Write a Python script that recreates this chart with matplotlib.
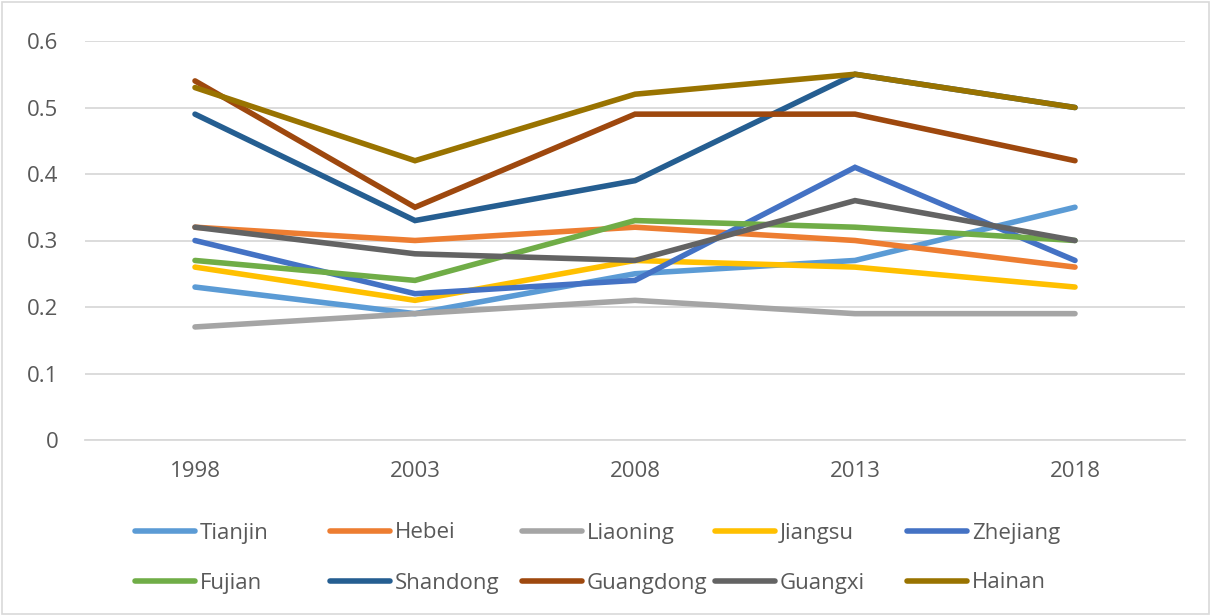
import matplotlib
matplotlib.use("Agg")
import matplotlib.pyplot as plt
from matplotlib.patches import Rectangle

plt.rcParams['font.family'] = ['Open Sans', 'DejaVu Sans']

# data
years = ["1998", "2003", "2008", "2013", "2018"]
names = ["Tianjin", "Hebei", "Liaoning", "Jiangsu", "Zhejiang",
         "Fujian", "Shandong", "Guangdong", "Guangxi", "Hainan"]
tianjin = [0.23, 0.19, 0.25, 0.27, 0.35]
hebei = [0.32, 0.30, 0.32, 0.30, 0.26]
liaoning = [0.17, 0.19, 0.21, 0.19, 0.19]
jiangsu = [0.26, 0.21, 0.27, 0.26, 0.23]
zhejiang = [0.30, 0.22, 0.24, 0.41, 0.27]
fujian = [0.27, 0.24, 0.33, 0.32, 0.30]
shandong = [0.49, 0.33, 0.39, 0.55, 0.50]
guangdong = [0.54, 0.35, 0.49, 0.49, 0.42]
guangxi = [0.32, 0.28, 0.27, 0.36, 0.30]
hainan = [0.53, 0.42, 0.52, 0.55, 0.50]
series = [tianjin, hebei, liaoning, jiangsu, zhejiang,
          fujian, shandong, guangdong, guangxi, hainan]
colors = ["#5B9BD5", "#ED7D31", "#A5A5A5", "#FFC000", "#4472C4",
          "#70AD47", "#255E91", "#9E480E", "#636363", "#997300"]

W, H = 1213, 616
fig = plt.figure(figsize=(W / 100, H / 100), dpi=100)
ax = fig.add_axes([85 / W, 1 - 440 / H, 1100 / W, 399 / H])

x = list(range(len(years)))
lines = []
for vals, name, c in zip(series, names, colors):
    ln, = ax.plot(x, vals, color=c, linewidth=4, label=name,
                  solid_capstyle='round', solid_joinstyle='miter')
    lines.append(ln)

ax.set_xlim(-0.5, 4.5)
ax.set_ylim(0, 0.6)
ax.set_yticks([0, 0.1, 0.2, 0.3, 0.4, 0.5, 0.6])
ax.set_yticklabels(["0", "0.1", "0.2", "0.3", "0.4", "0.5", "0.6"])
ax.set_xticks(x)
ax.set_xticklabels(years)
ax.tick_params(length=0, labelsize=16, labelcolor="#595959")
ax.tick_params(axis='y', pad=19)
ax.tick_params(axis='x', pad=15)
ax.grid(axis='y', color="#D9D9D9", linewidth=1.3)
ax.set_axisbelow(True)
for s in ["top", "right", "left"]:
    ax.spines[s].set_visible(False)
ax.spines["bottom"].set_color("#D9D9D9")
ax.spines["bottom"].set_linewidth(1.3)

# legend, laid out like Excel: two rows of five equal columns
col_x = [135, 330, 522, 715, 907]
row_y = [533, 583]
for i, ln in enumerate(lines):
    r, c = divmod(i, 5)
    leg = fig.legend([ln], [names[i]], loc="center left",
                     bbox_to_anchor=(col_x[c] / W, 1 - row_y[r] / H),
                     frameon=False, fontsize=16, handlelength=2.7,
                     handletextpad=0.22, borderpad=0, borderaxespad=0,
                     labelcolor="#595959")

fig.patches.append(Rectangle((0.002, 0.003), 0.995, 0.993, transform=fig.transFigure,
                             fill=False, edgecolor="#D9D9D9", linewidth=1.2))

fig.savefig("out.png", dpi=100)
